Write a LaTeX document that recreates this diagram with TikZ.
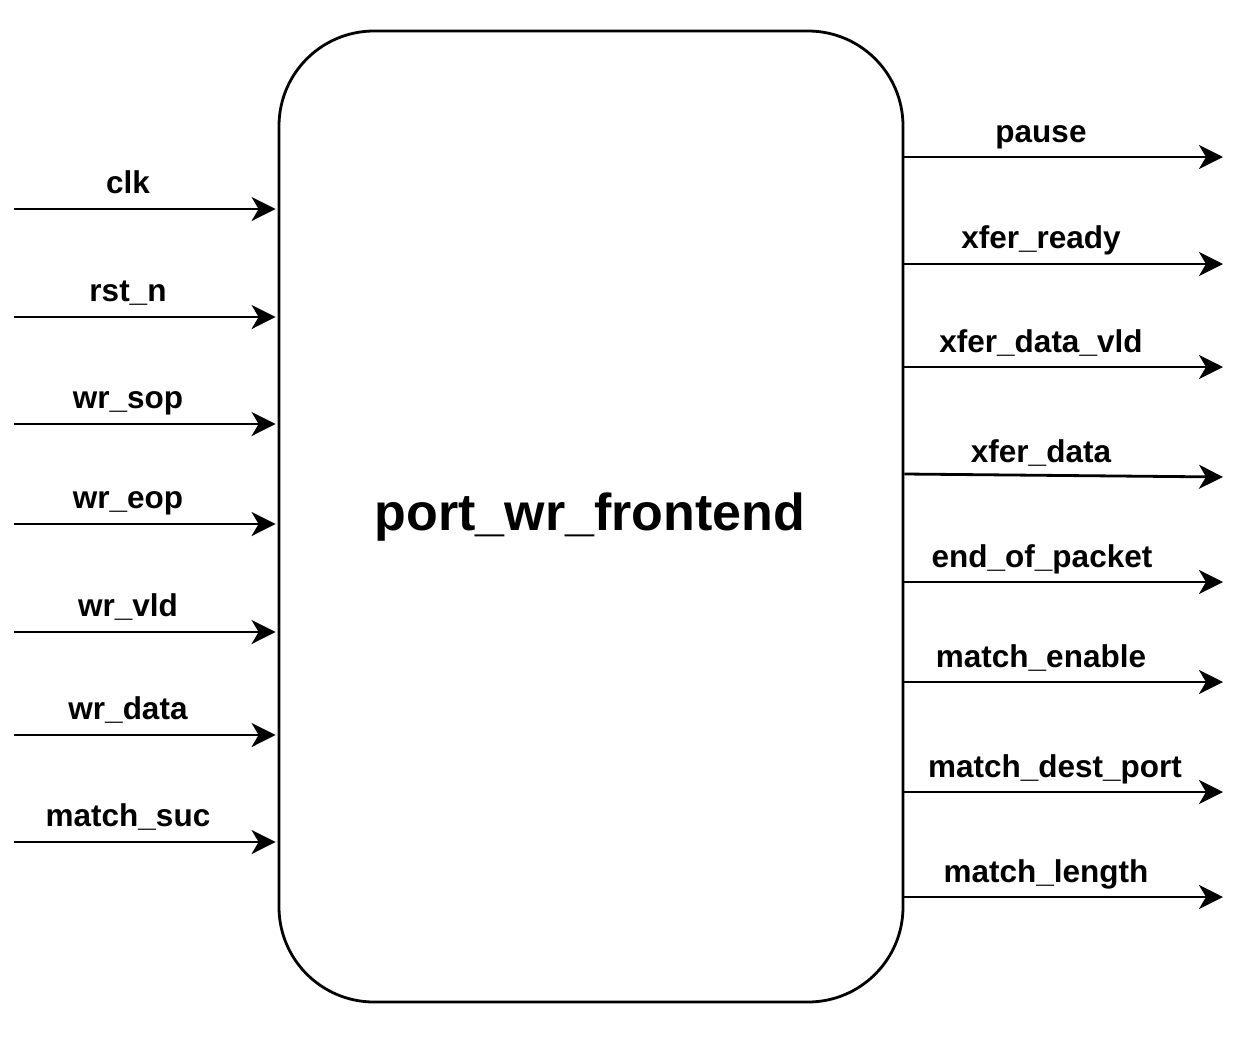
\documentclass[tikz,border=0pt]{standalone}
\usepackage{fontspec}
\setmainfont{Liberation Sans}
\usetikzlibrary{positioning,arrows.meta}

\begin{document}
\begin{tikzpicture}[x=1pt, y=-1pt, line width=2.8pt,
    block/.style={draw, rounded corners=95pt, minimum width=624pt, minimum height=971pt,
        inner sep=0pt, font=\fontsize{52}{60}\selectfont\bfseries},
    port/.style={-{Stealth[length=24pt, width=24pt, inset=7pt]}},
    sig/.style={anchor=base, inner sep=0pt, font=\fontsize{31.5}{36}\selectfont\bfseries}]
        \useasboundingbox (0,0) rectangle (1254,1045);
        % The module
        \node[block] (blk) at (591,516.5) {};
        \node[font=\fontsize{52}{60}\selectfont\bfseries, anchor=base] (title) at (590,530) {port\_wr\_frontend};
        % Inputs on the left
        \coordinate (clk) at (14,209);
        \coordinate (rstn) at (14,317);
        \coordinate (sop) at (14,424);
        \coordinate (eop) at (14,524);
        \coordinate (vld) at (14,632);
        \coordinate (data) at (14,735);
        \coordinate (suc) at (14,842);
        \draw[port, shorten >=2pt] (clk) -- (clk -| blk.west);
        \draw[port, shorten >=2pt] (rstn) -- (rstn -| blk.west);
        \draw[port, shorten >=2pt] (sop) -- (sop -| blk.west);
        \draw[port, shorten >=2pt] (eop) -- (eop -| blk.west);
        \draw[port, shorten >=2pt] (vld) -- (vld -| blk.west);
        \draw[port, shorten >=2pt] (data) -- (data -| blk.west);
        \draw[port, shorten >=2pt] (suc) -- (suc -| blk.west);
        \node[sig] (clkL) at (128,193) {clk};
        \node[sig] (rstnL) at (128,301) {rst\_n};
        \node[sig] (sopL) at (128,408) {wr\_sop};
        \node[sig] (eopL) at (128,508) {wr\_eop};
        \node[sig] (vldL) at (128,616) {wr\_vld};
        \node[sig] (dataL) at (128,719) {wr\_data};
        \node[sig] (sucL) at (128,826) {match\_suc};
        % Outputs on the right
        \coordinate (pause) at (1223,157);
        \coordinate (rdy) at (1223,264);
        \coordinate (xvld) at (1223,367);
        \coordinate (xdata) at (1223,477);
        \coordinate (eopk) at (1223,582);
        \coordinate (men) at (1223,682);
        \coordinate (mdp) at (1223,792);
        \coordinate (mlen) at (1223,897);
        \draw[port] (pause -| blk.east) -- (pause);
        \draw[port] (rdy -| blk.east) -- (rdy);
        \draw[port] (xvld -| blk.east) -- (xvld);
        \draw[port] ([yshift=3pt]xdata -| blk.east) -- (xdata);
        \draw[port] (eopk -| blk.east) -- (eopk);
        \draw[port] (men -| blk.east) -- (men);
        \draw[port] (mdp -| blk.east) -- (mdp);
        \draw[port] (mlen -| blk.east) -- (mlen);
        \node[sig] (pauseL) at (1041,142) {pause};
        \node[sig] (rdyL) at (1041,248) {xfer\_ready};
        \node[sig] (xvldL) at (1041,352) {xfer\_data\_vld};
        \node[sig] (xdataL) at (1041,462) {xfer\_data};
        \node[sig] (eopkL) at (1042,567) {end\_of\_packet};
        \node[sig] (menL) at (1041,667) {match\_enable};
        \node[sig] (mdpL) at (1055,777) {match\_dest\_port};
        \node[sig] (mlenL) at (1046,882) {match\_length};
        \end{tikzpicture}
\end{document}
